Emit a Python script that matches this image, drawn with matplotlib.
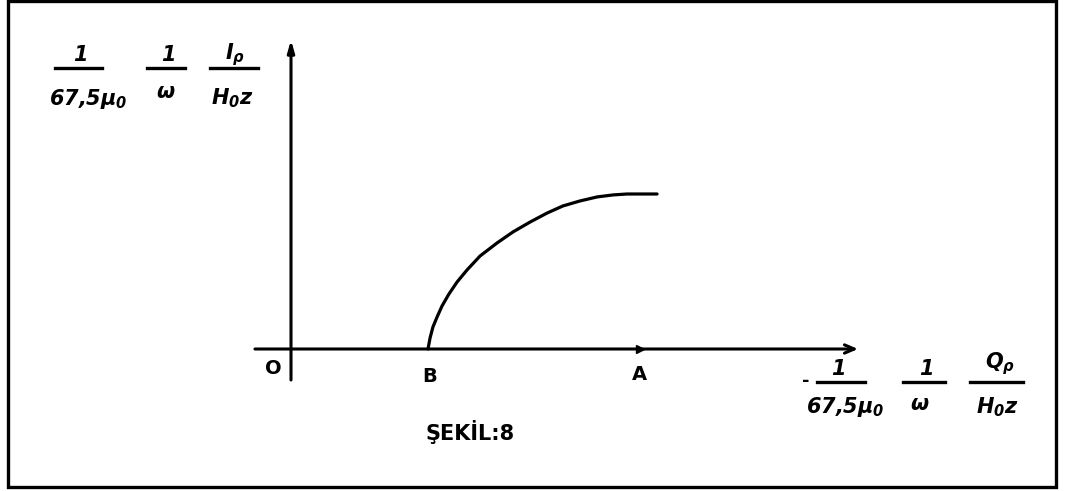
import matplotlib

matplotlib.use("Agg")
import matplotlib.pyplot as plt
import matplotlib.transforms as mtransforms
from matplotlib.patches import Rectangle

plt.rcParams["mathtext.fontset"] = "custom"
plt.rcParams["mathtext.rm"] = "DejaVu Sans:bold:italic"
plt.rcParams["mathtext.it"] = "DejaVu Sans:bold:italic"
plt.rcParams["mathtext.bf"] = "DejaVu Sans:bold:italic"

# characteristic: starts at B on the abscissa, flattens out near A
curve_x = [1.000, 1.015, 1.036, 1.066, 1.102, 1.153, 1.212, 1.285, 1.380, 1.504,
           1.620, 1.745, 1.869, 1.985, 2.109, 2.234, 2.350, 2.453, 2.547, 2.672]
curve_y = [0.000, 0.071, 0.142, 0.206, 0.277, 0.355, 0.432, 0.510, 0.600, 0.684,
           0.755, 0.819, 0.877, 0.923, 0.955, 0.981, 0.994, 1.000, 1.000, 1.000]

point_names = ["O", "B", "A"]
point_x = [0.0, 1.0, 2.547]

x_axis_span = [-0.263, 4.139]
y_axis_span = [-0.200, 1.994]

W, H = 1065, 491
fig = plt.figure(figsize=(W / 100, H / 100), dpi=100)
ax = fig.add_axes([0, 0, 1, 1])
ax.set_xlim(-291 / 137, (W - 291) / 137)
ax.set_ylim(-(H - 349) / 155, 349 / 155)
ax.axis("off")

# pixel placement (top-left origin) for the hand lettering
px = mtransforms.Affine2D().scale(1 / W, -1 / H).translate(0, 1) + fig.transFigure

# frame
fig.add_artist(Rectangle((8 / W, 4 / H), 1048 / W, 486 / H, transform=fig.transFigure,
                         fill=False, lw=2.4, ec="black"))

# axes with arrows
ax.annotate("", xy=(x_axis_span[1], 0), xytext=(x_axis_span[0], 0),
            arrowprops=dict(arrowstyle="->,head_length=0.7,head_width=0.3",
                            lw=2.2, color="black", shrinkA=0, shrinkB=0))
ax.annotate("", xy=(0, y_axis_span[1]), xytext=(0, y_axis_span[0]),
            arrowprops=dict(arrowstyle="-|>,head_length=0.7,head_width=0.2",
                            lw=2.2, color="black", shrinkA=0, shrinkB=0))
ax.plot([point_x[2]], [0], marker=">", ms=6, color="black")

ax.plot(curve_x, curve_y, color="black", lw=2.3, solid_capstyle="round",
        solid_joinstyle="round")

# point letters under the abscissa
label_off = [(-18, 19), (2, 27), (0, 25)]
for name, xv, (dx, dy) in zip(point_names, point_x, label_off):
    ax.annotate(name, xy=(xv, 0), xytext=(dx, -dy), textcoords="offset pixels",
                ha="center", va="center", fontsize=14, fontweight="bold",
                family="DejaVu Sans")


def fraction(num, den, num_x, den_x, bar, ybar, ynum, yden, size=15):
    fig.text(num_x, ynum, num, transform=px, ha="center", va="center",
             fontsize=size, fontweight="bold", style="italic")
    fig.text(den_x, yden, den, transform=px, ha="center", va="center",
             fontsize=size, fontweight="bold", style="italic")
    fig.add_artist(plt.Line2D(bar, [ybar, ybar], transform=px, color="black", lw=2.4))


# ordinate label
fraction("1", r"$67{,}5\mu_0$", 80, 88, [55, 102], 68, 55, 99)
fraction("1", r"$\omega$", 168, 166, [147, 185], 68, 55, 92)
fraction(r"$I_\rho$", r"$H_0z$", 235, 232, [210, 258], 68, 55, 98)

# abscissa label
fig.text(806, 381, "-", transform=px, ha="center", va="center", fontsize=13, fontweight="bold")
fraction("1", r"$67{,}5\mu_0$", 838, 845, [817, 865], 382, 369, 407)
fraction("1", r"$\omega$", 926, 920, [903, 945], 382, 369, 404)
fraction(r"$Q_\rho$", r"$H_0z$", 1000, 997, [970, 1023], 382, 364, 407)

fig.text(470, 432, "ŞEKİL:8", transform=px, ha="center", va="center",
         fontsize=15, fontweight="bold", family="DejaVu Sans")

fig.savefig("out.png", dpi=100, facecolor="white")
